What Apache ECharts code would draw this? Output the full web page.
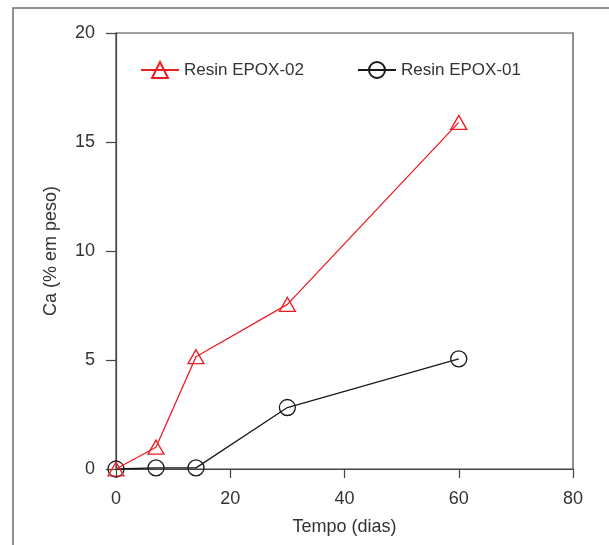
<!DOCTYPE html>
<html>
<head>
<meta charset="utf-8">
<script src="https://cdn.jsdelivr.net/npm/echarts@6/dist/echarts.min.js"></script>
<style>
  html, body { margin: 0; padding: 0; background: #fff; }
  #chart { width: 609px; height: 545px; }
</style>
</head>
<body>
<div id="chart"></div>
<script>
// dados
var DIAS = [0, 7, 14, 30, 60];
var EPOX_02 = [0, 1.0, 5.15, 7.55, 15.9];
var EPOX_01 = [0, 0.05, 0.05, 2.82, 5.05];
var X_TICKS = [0, 20, 40, 60, 80];
var Y_TICKS = [0, 5, 10, 15, 20];

var RED = '#ee1d23';
var BLACK = '#1a1a1a';
var TEXT = '#333333';
var FONT = "'Liberation Sans', Arial, sans-serif";

function pairs(xs, ys) {
  return xs.map(function (x, i) { return [x, ys[i]]; });
}

var chart = echarts.init(document.getElementById('chart'), null, { renderer: 'canvas' });

chart.setOption({
  animation: false,
  backgroundColor: '#fff',
  graphic: [{
    // moldura cinza da figura
    type: 'rect',
    shape: { x: 13, y: 8, width: 640, height: 600 },
    style: { fill: 'none', stroke: '#6e6e6e', lineWidth: 1.5 },
    silent: true
  }],
  grid: {
    left: 116, right: 36, top: 33, bottom: 76,
    show: true, borderColor: '#444', borderWidth: 1.2,
    backgroundColor: 'transparent'
  },
  legend: {
    left: 135, top: 56,
    itemWidth: 38, itemHeight: 20, itemGap: 53,
    textStyle: { fontFamily: FONT, fontSize: 17, color: TEXT },
    data: ['Resin EPOX-02', 'Resin EPOX-01']
  },
  xAxis: {
    type: 'value',
    min: X_TICKS[0], max: X_TICKS[X_TICKS.length - 1], interval: 20,
    name: 'Tempo (dias)', nameLocation: 'middle', nameGap: 49,
    nameTextStyle: { fontFamily: FONT, fontSize: 18, color: TEXT },
    axisLine: { lineStyle: { color: '#444', width: 1.2 } },
    axisTick: { show: true, inside: false, length: 9, lineStyle: { color: '#444', width: 1.2 } },
    axisLabel: { margin: 21, fontFamily: FONT, fontSize: 18, color: TEXT },
    splitLine: { show: false }
  },
  yAxis: {
    type: 'value',
    min: Y_TICKS[0], max: Y_TICKS[Y_TICKS.length - 1], interval: 5,
    name: 'Ca (% em peso)', nameLocation: 'middle', nameGap: 56, nameRotate: 90,
    nameTextStyle: { fontFamily: FONT, fontSize: 18, color: TEXT },
    axisLine: { lineStyle: { color: '#444', width: 1.2 } },
    axisTick: { show: true, inside: false, length: 10, lineStyle: { color: '#444', width: 1.2 } },
    axisLabel: { margin: 21, fontFamily: FONT, fontSize: 18, color: TEXT },
    splitLine: { show: false }
  },
  series: [{
    name: 'Resin EPOX-01',
    type: 'line',
    data: pairs(DIAS, EPOX_01),
    symbol: 'circle',
    symbolSize: 16,
    lineStyle: { color: BLACK, width: 1.3 },
    itemStyle: { color: 'rgba(0,0,0,0)', borderColor: BLACK, borderWidth: 1.3 },
    emphasis: { disabled: true },
    z: 2
  }, {
    name: 'Resin EPOX-02',
    type: 'line',
    data: pairs(DIAS, EPOX_02),
    symbol: 'triangle',
    symbolSize: [16, 14],
    lineStyle: { color: RED, width: 1.3 },
    itemStyle: { color: 'rgba(0,0,0,0)', borderColor: RED, borderWidth: 1.3 },
    emphasis: { disabled: true },
    z: 3
  }]
});
</script>
</body>
</html>
